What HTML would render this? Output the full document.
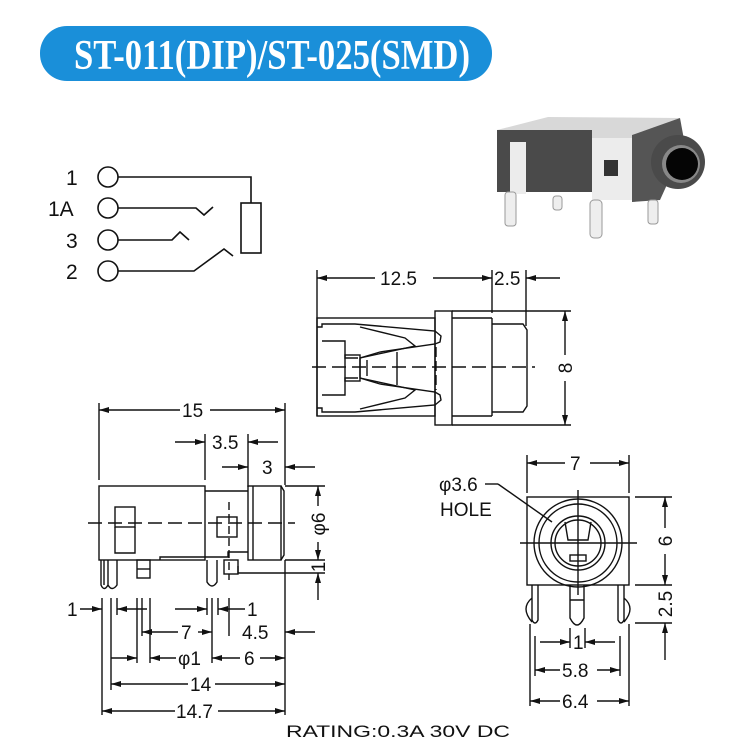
<!DOCTYPE html>
<html><head><meta charset="utf-8"><style>
html,body{margin:0;padding:0;background:#fff;width:735px;height:744px;overflow:hidden}
svg{display:block}
text{font-family:"Liberation Sans",sans-serif;fill:#111}
</style></head><body>
<svg width="735" height="744" viewBox="0 0 735 744" xmlns="http://www.w3.org/2000/svg">
<defs>
<marker id="a" viewBox="0 0 10 6" refX="10" refY="3" markerWidth="11" markerHeight="6" orient="auto-start-reverse" markerUnits="userSpaceOnUse"><path d="M0,0 L10,3 L0,6z" fill="#111"/></marker>
</defs>
<rect x="40" y="26" width="452" height="55" rx="27" fill="#1a8fd9"/>
<text x="74" y="69" font-weight="bold" font-size="42" style="fill:#fff;font-family:'Liberation Serif',serif" textLength="396" lengthAdjust="spacingAndGlyphs">ST-011(DIP)/ST-025(SMD)</text>

<g stroke="#111" stroke-width="1.6" fill="none">
<circle cx="108" cy="177" r="10"/><circle cx="108" cy="208" r="10"/><circle cx="108" cy="240" r="10"/><circle cx="108" cy="271" r="10"/>
<polyline points="118,177 251,177 251,203"/>
<rect x="241" y="203" width="20" height="50"/>
<polyline points="118,208 196,208 204,215 213,207"/>
<polyline points="118,240 172,240 180,232 189,240"/>
<polyline points="118,271 194,271 224,249 233,256"/>
</g>
<g font-size="21"><text x="66" y="185">1</text><text x="48" y="216">1A</text><text x="66" y="248">3</text><text x="66" y="279">2</text></g>

<g>
<polygon points="497,130 548,117 680,118 632,135 632,138 497,138" fill="#d8d8d8"/>
<rect x="497" y="130" width="95" height="62" fill="#4a4a4a"/>
<rect x="510" y="142" width="16" height="52" fill="#ececec"/>
<rect x="592" y="138" width="42" height="62" fill="#ececec"/>
<rect x="604" y="160" width="14" height="16" fill="#333"/>
<polygon points="632,135 680,118 685,145 660,200 632,202" fill="#555"/>
<circle cx="678" cy="162" r="27" fill="#4a4a4a"/>
<circle cx="681" cy="164" r="19" fill="#888"/>
<circle cx="682" cy="164" r="16" fill="#050505"/>
<rect x="505" y="192" width="11" height="34" rx="3" fill="#eee" stroke="#999"/>
<rect x="553" y="196" width="9" height="14" rx="3" fill="#eee" stroke="#999"/>
<rect x="590" y="200" width="12" height="38" rx="4" fill="#eee" stroke="#999"/>
<rect x="648" y="200" width="10" height="24" rx="3" fill="#eee" stroke="#999"/>
</g>

<g stroke="#111" stroke-width="1.4" fill="none">
<line x1="317" y1="270" x2="317" y2="416"/>
<line x1="492" y1="270" x2="492" y2="313"/>
<line x1="526" y1="270" x2="526" y2="326"/>
<line x1="317" y1="278" x2="375" y2="278" marker-start="url(#a)"/>
<line x1="433" y1="278" x2="492" y2="278" marker-end="url(#a)"/>
<line x1="560" y1="278" x2="526" y2="278" marker-end="url(#a)"/>
<rect x="317" y="318" width="118" height="98"/>
<rect x="435" y="311" width="17" height="114"/>
<line x1="452" y1="318" x2="492" y2="318"/><line x1="452" y1="416" x2="492" y2="416"/>
<line x1="492" y1="318" x2="492" y2="416"/>
<polyline points="492,324 523,324 527,330 527,406 523,412 492,412"/>
<line x1="452" y1="311" x2="571" y2="311"/><line x1="452" y1="425" x2="571" y2="425"/>
<line x1="565" y1="355" x2="565" y2="311" marker-end="url(#a)"/>
<line x1="565" y1="381" x2="565" y2="425" marker-end="url(#a)"/>
<line x1="312" y1="367" x2="535" y2="367" stroke-dasharray="14,6"/>
<polyline points="317,327 322,327 322,324 355,324 435,331 441,336 440,342 435,344 380,352 360,358 360,378 380,384 435,392 440,395 441,400 435,405 355,412 322,412 322,408 317,408"/>
<polyline points="322,341 345,341 345,358 358,358"/>
<polyline points="322,395 345,395 345,378 358,378"/>
<polyline points="360,327 405,338 415,346 360,358"/>
<polyline points="360,409 405,398 415,390 360,378"/>
<rect x="345" y="355" width="15" height="26"/>
<line x1="367" y1="360" x2="367" y2="376"/>
<line x1="397" y1="352" x2="397" y2="385"/>
<line x1="436" y1="347" x2="436" y2="390" stroke-dasharray="10,4"/>

<line x1="99" y1="403" x2="99" y2="480"/>
<line x1="285" y1="403" x2="285" y2="485"/>
<line x1="99" y1="410" x2="180" y2="410" marker-start="url(#a)"/>
<line x1="210" y1="410" x2="285" y2="410" marker-end="url(#a)"/>
<line x1="205" y1="434" x2="205" y2="480"/>
<line x1="248" y1="434" x2="248" y2="487"/>
<line x1="175" y1="442" x2="205" y2="442" marker-end="url(#a)"/>
<line x1="278" y1="442" x2="248" y2="442" marker-end="url(#a)"/>
<line x1="222" y1="467" x2="248" y2="467" marker-end="url(#a)"/>
<line x1="315" y1="467" x2="285" y2="467" marker-end="url(#a)"/>
<rect x="99" y="486" width="106" height="74"/>
<polyline points="205,491 248,491"/>
<polyline points="160,560 160,557 228,557 228,552 248,552"/>
<rect x="248" y="486" width="33" height="74"/>
<line x1="253" y1="486" x2="253" y2="560"/>
<path d="M281,486 L284,491 L284,555 L281,560"/>
<rect x="115" y="507" width="20" height="20"/>
<polyline points="115,527 115,553 135,553 135,527"/>
<rect x="217" y="517" width="20" height="20"/>
<line x1="229" y1="502" x2="229" y2="580" stroke-dasharray="8,4"/>
<line x1="88" y1="523" x2="295" y2="523" stroke-dasharray="14,6"/>
<polyline points="285,486 325,486"/>
<polyline points="285,560 325,560"/>
<polyline points="238,566 238,573 325,573"/>
<line x1="318" y1="506" x2="318" y2="486" marker-end="url(#a)"/>
<line x1="318" y1="542" x2="318" y2="560" marker-end="url(#a)"/>
<line x1="318" y1="600" x2="318" y2="573" marker-end="url(#a)"/>
<path d="M101,560 L101,585 Q104,592 108,585 L108,560 M108,585 Q112,592 117,585 L117,560 M104,560 L104,585"/>
<rect x="137" y="560" width="13" height="18"/>
<line x1="137" y1="569" x2="150" y2="569"/>
<path d="M207,560 L207,582 Q212,590 217,582 L217,560"/>
<rect x="224" y="560" width="14" height="14"/>
<line x1="102" y1="598" x2="102" y2="715"/>
<line x1="111" y1="598" x2="111" y2="690"/>
<line x1="117" y1="598" x2="117" y2="615"/>
<line x1="137" y1="598" x2="137" y2="663"/>
<line x1="142" y1="598" x2="142" y2="636"/>
<line x1="150" y1="598" x2="150" y2="663"/>
<line x1="207" y1="598" x2="207" y2="615"/>
<line x1="212" y1="598" x2="212" y2="663"/>
<line x1="218" y1="598" x2="218" y2="615"/>
<line x1="229" y1="598" x2="229" y2="636"/>
<line x1="285" y1="560" x2="285" y2="715"/>
<line x1="80" y1="609" x2="102" y2="609" marker-end="url(#a)"/>
<line x1="147" y1="609" x2="117" y2="609" marker-end="url(#a)"/>
<line x1="175" y1="609" x2="207" y2="609" marker-end="url(#a)"/>
<line x1="245" y1="609" x2="218" y2="609" marker-end="url(#a)"/>
<line x1="142" y1="632" x2="178" y2="632" marker-start="url(#a)"/>
<line x1="198" y1="632" x2="212" y2="632" marker-end="url(#a)"/>
<line x1="315" y1="632" x2="285" y2="632" marker-end="url(#a)"/>
<line x1="111" y1="658" x2="137" y2="658" marker-end="url(#a)"/>
<line x1="176" y1="658" x2="150" y2="658" marker-end="url(#a)"/>
<line x1="212" y1="658" x2="240" y2="658" marker-start="url(#a)"/>
<line x1="260" y1="658" x2="285" y2="658" marker-end="url(#a)"/>
<line x1="111" y1="684" x2="188" y2="684" marker-start="url(#a)"/>
<line x1="215" y1="684" x2="285" y2="684" marker-end="url(#a)"/>
<line x1="102" y1="711" x2="175" y2="711" marker-start="url(#a)"/>
<line x1="218" y1="711" x2="285" y2="711" marker-end="url(#a)"/>

<line x1="527" y1="455" x2="527" y2="493"/>
<line x1="629" y1="455" x2="629" y2="493"/>
<line x1="527" y1="463" x2="565" y2="463" marker-start="url(#a)"/>
<line x1="590" y1="463" x2="629" y2="463" marker-end="url(#a)"/>
<rect x="527" y="497" width="102" height="88"/>
<circle cx="578" cy="543" r="44"/>
<circle cx="578" cy="543" r="39"/>
<circle cx="578" cy="543" r="27"/>
<circle cx="578" cy="543" r="23"/>
<polyline points="565,522 568,540 588,540 591,522"/>
<rect x="570" y="555" width="16" height="6"/>
<line x1="520" y1="543" x2="637" y2="543"/>
<line x1="578" y1="490" x2="578" y2="595"/>
<line x1="485" y1="484" x2="498" y2="484"/>
<line x1="498" y1="484" x2="552" y2="522"/>
<line x1="635" y1="497" x2="672" y2="497"/>
<line x1="635" y1="585" x2="672" y2="585"/>
<line x1="665" y1="528" x2="665" y2="497" marker-end="url(#a)"/>
<line x1="665" y1="554" x2="665" y2="585" marker-end="url(#a)"/>
<line x1="635" y1="623" x2="672" y2="623"/>
<line x1="665" y1="660" x2="665" y2="623" marker-end="url(#a)"/>
<path d="M532,585 L532,620 Q535,626 538,620 L538,585 M532,598 Q520,608 532,622"/>
<path d="M618,585 L618,620 Q621,626 624,620 L624,585 M624,598 Q636,608 624,622"/>
<path d="M570,585 L570,618 Q577,632 584,618 L584,585 M570,600 L584,600"/>
<line x1="530" y1="624" x2="530" y2="706"/>
<line x1="629" y1="624" x2="629" y2="706"/>
<line x1="535" y1="636" x2="535" y2="676"/>
<line x1="620" y1="636" x2="620" y2="676"/>
<line x1="570" y1="628" x2="570" y2="648"/>
<line x1="585" y1="628" x2="585" y2="648"/>
<line x1="540" y1="642" x2="570" y2="642" marker-end="url(#a)"/>
<line x1="615" y1="642" x2="585" y2="642" marker-end="url(#a)"/>
<line x1="535" y1="670" x2="560" y2="670" marker-start="url(#a)"/>
<line x1="597" y1="670" x2="620" y2="670" marker-end="url(#a)"/>
<line x1="530" y1="701" x2="560" y2="701" marker-start="url(#a)"/>
<line x1="597" y1="701" x2="629" y2="701" marker-end="url(#a)"/>
</g>

<g font-size="19">
<text x="380" y="285">12.5</text>
<text x="494" y="285">2.5</text>
<text x="572" y="368" transform="rotate(-90 572 368)" text-anchor="middle">8</text>
<text x="182" y="417">15</text>
<text x="212" y="449">3.5</text>
<text x="262" y="474">3</text>
<text x="325" y="524" transform="rotate(-90 325 524)" text-anchor="middle">φ6</text>
<text x="325" y="567" transform="rotate(-90 325 567)" text-anchor="middle">1</text>
<text x="67" y="616">1</text>
<text x="247" y="616">1</text>
<text x="181" y="639">7</text>
<text x="242" y="639">4.5</text>
<text x="178" y="665">φ1</text>
<text x="244" y="665">6</text>
<text x="190" y="691">14</text>
<text x="176" y="718">14.7</text>
<text x="570" y="470">7</text>
<text x="439" y="491">φ3.6</text>
<text x="440" y="516">HOLE</text>
<text x="672" y="541" transform="rotate(-90 672 541)" text-anchor="middle">6</text>
<text x="672" y="604" transform="rotate(-90 672 604)" text-anchor="middle">2.5</text>
<text x="573" y="649">1</text>
<text x="562" y="677">5.8</text>
<text x="562" y="708">6.4</text>
</g>
<text x="286" y="737" font-size="17" textLength="224" lengthAdjust="spacingAndGlyphs">RATING:0.3A 30V DC</text>
</svg>
</body></html>
